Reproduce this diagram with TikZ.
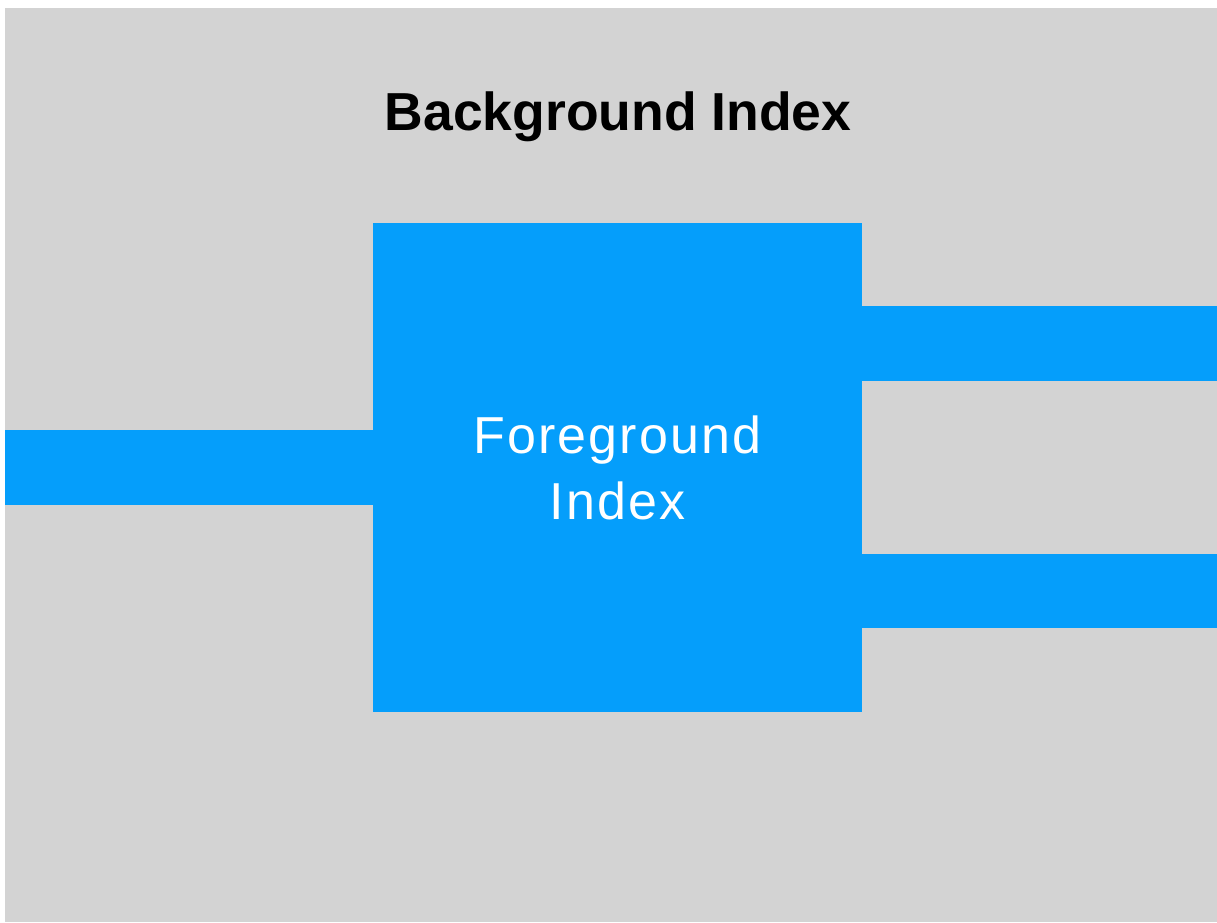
\documentclass[tikz,border=0pt]{standalone}
\usepackage{fontspec}
\setmainfont{Liberation Sans}
\newfontfamily\spacedsans[LetterSpace=4]{Liberation Sans}
\definecolor{panelgray}{RGB}{211,211,211}
\definecolor{indexblue}{RGB}{5,158,251}
\begin{document}
\begin{tikzpicture}[x=1pt, y=-1pt,
  bluebox/.style={fill=indexblue, draw=none, inner sep=0pt, outer sep=0pt},
  bar/.style={bluebox, minimum height=75pt}]
  \useasboundingbox[fill=white] (0,0) rectangle (1217,922);
  % background panel
  \fill[panelgray] (5,8) rectangle (1217,922);
  \node[anchor=base, font=\bfseries\fontsize{53.5}{60}\selectfont] (title) at (618,130) {Background Index};
  % foreground block
  \node[bluebox, minimum width=489pt, minimum height=489pt, text=white, align=center,
        font=\spacedsans\fontsize{52}{66}\selectfont] (fg) at (617.5,467.5) {Foreground\\Index};
  % input and output bars
  \coordinate (inL) at (5,467.5);
  \coordinate (outA) at (1217,343.5);
  \coordinate (outB) at (1217,591);
  \node[bar, minimum width=368pt, anchor=east] (barL) at (fg.west|-inL) {};
  \node[bar, minimum width=355pt, anchor=west] (barA) at (fg.east|-outA) {};
  \node[bar, minimum width=355pt, anchor=west, minimum height=74pt] (barB) at (fg.east|-outB) {};
\end{tikzpicture}
\end{document}
